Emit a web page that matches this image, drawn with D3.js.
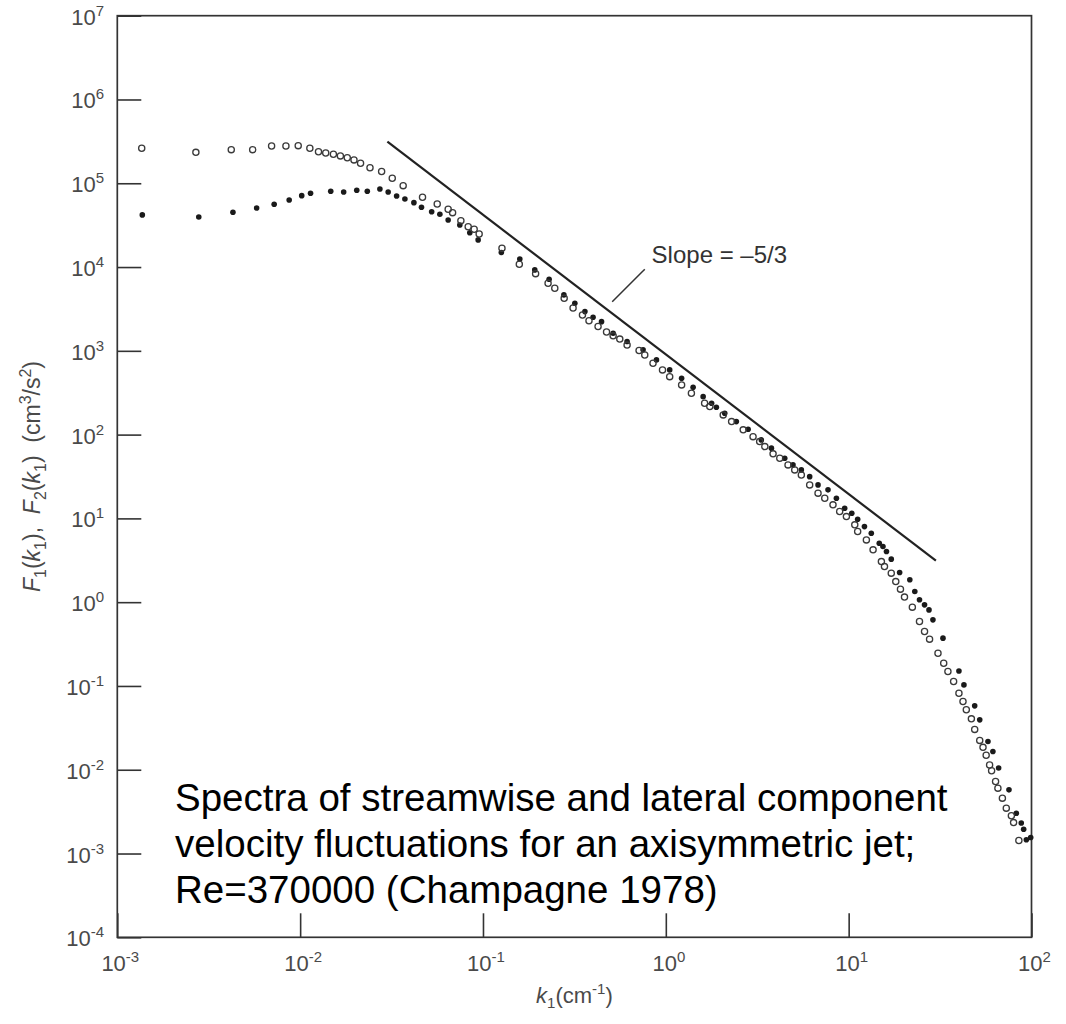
<!DOCTYPE html>
<html><head><meta charset="utf-8">
<script src="https://cdn.jsdelivr.net/npm/d3@7"></script>
<style>
body{margin:0;background:#fff;}
svg{display:block;font-family:"Liberation Sans",Arial,Helvetica,sans-serif;}
</style>
</head><body>
<svg id="chart" width="1066" height="1024"></svg>
<script>
// ---- data ----
const xTickExps = [-3, -2, -1, 0, 1, 2];
const yTickExps = [-4, -3, -2, -1, 0, 1, 2, 3, 4, 5, 6, 7];

// F1 (streamwise) – open circles
const f1K = [1.36e-3, 2.69e-3, 4.20e-3, 5.50e-3, 6.98e-3, 8.36e-3, 9.76e-3, 1.13e-2, 1.26e-2, 1.38e-2,
  1.52e-2, 1.66e-2, 1.81e-2, 1.97e-2, 2.14e-2, 2.41e-2, 2.79e-2, 3.19e-2, 3.66e-2, 4.67e-2,
  5.62e-2, 6.45e-2, 6.82e-2, 7.57e-2, 8.30e-2, 8.95e-2, 9.53e-2, 0.127, 0.158, 0.194,
  0.227, 0.247, 0.278, 0.311, 0.350, 0.380, 0.426, 0.474, 0.515, 0.560,
  0.614, 0.714, 0.767, 0.851, 0.959, 1.05, 1.22, 1.38, 1.63, 1.74,
  2.06, 2.29, 2.65, 3.00, 3.26, 3.48, 3.86, 4.20, 4.66, 5.07,
  5.51, 6.12, 6.80, 7.40, 8.21, 8.93, 9.72, 10.8, 11.2, 12.5,
  13.6, 15.1, 15.7, 17.1, 18.1, 19.2, 20.2, 22.3, 24.4, 26.0,
  27.7, 30.8, 33.1, 34.9, 37.5, 40.1, 42.2, 44.0, 46.9, 48.9,
  52.1, 54.3, 56.5, 59.0, 60.5, 63.6, 65.5, 69.3, 72.8, 77.6,
  79.8, 85.3];
const f1F = [2.62e5, 2.34e5, 2.52e5, 2.52e5, 2.79e5, 2.79e5, 2.81e5, 2.62e5, 2.38e5, 2.30e5,
  2.22e5, 2.12e5, 2.02e5, 1.90e5, 1.73e5, 1.53e5, 1.38e5, 1.15e5, 9.36e4, 6.81e4,
  5.66e4, 4.90e4, 4.46e4, 3.58e4, 3.03e4, 2.82e4, 2.48e4, 1.68e4, 1.08e4, 8.34e3,
  6.41e3, 5.58e3, 4.25e3, 3.25e3, 2.68e3, 2.29e3, 1.95e3, 1.68e3, 1.51e3, 1.38e3,
  1.17e3, 1.01e3, 893, 711, 592, 492, 392, 312, 237, 216,
  172, 143, 114, 94.6, 82.5, 71.9, 58.9, 52.3, 43.5, 37.9,
  33.0, 25.1, 20.0, 17.4, 14.5, 12.1, 10.5, 8.37, 6.97, 5.54,
  4.21, 3.05, 2.66, 2.22, 1.76, 1.43, 1.15, 0.872, 0.587, 0.446,
  0.362, 0.246, 0.187, 0.149, 0.113, 0.0820, 0.0652, 0.0519, 0.0405, 0.0303,
  0.0224, 0.0185, 0.0149, 0.0114, 0.00971, 0.00723, 0.00603, 0.00458, 0.00348, 0.00282,
  0.00234, 0.00143];

// F2 (lateral) – filled dots
const f2K = [1.37e-3, 2.79e-3, 4.29e-3, 5.78e-3, 7.21e-3, 8.71e-3, 1.02e-2, 1.14e-2, 1.47e-2, 1.73e-2,
  2.04e-2, 2.33e-2, 2.73e-2, 3.03e-2, 3.37e-2, 3.74e-2, 4.19e-2, 4.61e-2, 5.24e-2, 5.81e-2,
  6.45e-2, 7.47e-2, 8.47e-2, 9.41e-2, 0.126, 0.159, 0.192, 0.230, 0.277, 0.318,
  0.361, 0.400, 0.445, 0.515, 0.614, 0.751, 0.889, 1.05, 1.22, 1.41,
  1.60, 1.78, 1.89, 2.10, 2.43, 2.82, 3.33, 3.78, 4.47, 4.96,
  5.51, 6.12, 6.80, 7.71, 8.57, 9.51, 10.4, 11.2, 12.2, 13.3,
  14.7, 15.4, 16.1, 17.1, 19.0, 21.6, 23.0, 24.4, 26.0, 27.5,
  28.9, 32.8, 40.1, 42.7, 48.9, 52.1, 57.8, 61.5, 66.1, 75.3,
  82.6, 87.9, 90.6, 93.7, 99.0];
const f2F = [4.19e4, 3.96e4, 4.51e4, 5.07e4, 5.61e4, 6.32e4, 7.11e4, 7.60e4, 8.02e4, 7.87e4,
  8.25e4, 8.02e4, 8.55e4, 7.87e4, 7.05e4, 6.50e4, 5.87e4, 5.17e4, 4.58e4, 4.27e4,
  3.65e4, 3.18e4, 2.57e4, 2.11e4, 1.49e4, 1.25e4, 9.24e3, 7.15e3, 4.65e3, 3.70e3,
  2.94e3, 2.52e3, 2.23e3, 1.62e3, 1.29e3, 1.03e3, 779, 592, 471, 368,
  284, 237, 212, 180, 143, 116, 86.5, 68.9, 52.3, 43.5,
  37.9, 31.5, 25.1, 21.9, 17.4, 13.2, 11.5, 9.78, 7.98, 6.66,
  5.06, 4.61, 4.02, 3.26, 2.26, 1.85, 1.34, 1.07, 0.929, 0.809,
  0.615, 0.372, 0.151, 0.103, 0.0579, 0.0394, 0.0217, 0.0165, 0.0105, 0.00575,
  0.00303, 0.00231, 0.00195, 0.00146, 0.00155];

// -5/3 reference line end points
const slopeK = [0.03, 30];
const slopeF = [3.13e5, 3.13];
const slopeText = "Slope = \u20135/3";
const leaderK = [0.767, 0.509];
const leaderF = [9420, 3860];
const slopeTextAt = [0.836, 1.13e4];

const captionLines = [
  "Spectra of streamwise and lateral component",
  "velocity fluctuations for an axisymmetric jet;",
  "Re=370000 (Champagne 1978)"
];

// ---- drawing ----
const svg = d3.select("#chart");
const L = 117.3, R = 1031.5, T = 15.7, B = 937.3;
const x = d3.scaleLog().domain([1e-3, 1e2]).range([L, R]);
const y = d3.scaleLog().domain([1e-4, 1e7]).range([B, T]);
const axisCol = "#333";
const tickCol = "#4a4a4a";

// axes with inward ticks
const gx = svg.append("g").attr("transform", `translate(0,${B})`)
  .call(d3.axisBottom(x).tickValues(xTickExps.map(e => Math.pow(10, e))).tickSize(-24).tickFormat(""));
const gy = svg.append("g").attr("transform", `translate(${L},0)`)
  .call(d3.axisLeft(y).tickValues(yTickExps.map(e => Math.pow(10, e))).tickSize(-24).tickFormat(""));
[gx, gy].forEach(g => {
  g.select(".domain").remove();
  g.selectAll(".tick line").attr("stroke", axisCol).attr("stroke-width", 1.6);
});

// frame
svg.append("rect").attr("x", L).attr("y", T).attr("width", R - L).attr("height", B - T)
  .attr("fill", "none").attr("stroke", axisCol).attr("stroke-width", 1.7);

// tick labels
function pow10Label(sel, e) {
  sel.append("tspan").text("10");
  sel.append("tspan").attr("dy", -9).attr("font-size", 15).text(String(e));
}
svg.append("g").selectAll("text").data(xTickExps).join("text")
  .attr("x", d => x(Math.pow(10, d)) + 3).attr("y", 971)
  .attr("text-anchor", "middle").attr("font-size", 22).attr("fill", tickCol)
  .each(function (d) { pow10Label(d3.select(this), d); });
svg.append("g").selectAll("text").data(yTickExps).join("text")
  .attr("x", 104).attr("y", d => y(Math.pow(10, d)) + 9)
  .attr("text-anchor", "end").attr("font-size", 22).attr("fill", tickCol)
  .each(function (d) { pow10Label(d3.select(this), d); });

// axis titles
const xt = svg.append("text").attr("x", (L + R) / 2).attr("y", 1003)
  .attr("text-anchor", "middle").attr("font-size", 22).attr("fill", tickCol);
xt.append("tspan").attr("font-style", "italic").text("k");
xt.append("tspan").attr("dy", 5).attr("font-size", 15).text("1");
xt.append("tspan").attr("dy", -5).text("(cm");
xt.append("tspan").attr("dy", -9).attr("font-size", 15).text("-1");
xt.append("tspan").attr("dy", 9).text(")");

const yt = svg.append("text").attr("transform", `translate(40,${(T + B) / 2}) rotate(-90)`)
  .attr("text-anchor", "middle").attr("font-size", 23).attr("fill", tickCol);
function sub(t, s) { t.append("tspan").attr("dy", 6).attr("font-size", 16).text(s); }
function up(t, s) { t.append("tspan").attr("dy", -6).text(s); }
yt.append("tspan").attr("font-style", "italic").text("F");
sub(yt, "1");
up(yt, "(");
yt.append("tspan").attr("font-style", "italic").text("k");
sub(yt, "1");
up(yt, "),\u00a0\u00a0");
yt.append("tspan").attr("font-style", "italic").text("F");
sub(yt, "2");
up(yt, "(");
yt.append("tspan").attr("font-style", "italic").text("k");
sub(yt, "1");
up(yt, ")\u00a0\u00a0(cm");
yt.append("tspan").attr("dy", -9).attr("font-size", 16).text("3");
yt.append("tspan").attr("dy", 9).text("/s");
yt.append("tspan").attr("dy", -9).attr("font-size", 16).text("2");
yt.append("tspan").attr("dy", 9).text(")");

// -5/3 line
const line = d3.line().x(d => x(d[0])).y(d => y(d[1]));
svg.append("path").datum(slopeK.map((k, i) => [k, slopeF[i]])).attr("d", line)
  .attr("fill", "none").attr("stroke", "#222").attr("stroke-width", 2.2);
svg.append("path").datum(leaderK.map((k, i) => [k, leaderF[i]])).attr("d", line)
  .attr("fill", "none").attr("stroke", "#333").attr("stroke-width", 1.5);
svg.append("text").attr("x", x(slopeTextAt[0])).attr("y", y(slopeTextAt[1]))
  .attr("font-size", 24).attr("fill", "#333").text(slopeText);

// data points
const f2 = f2K.map((k, i) => [k, f2F[i]]);
const f1 = f1K.map((k, i) => [k, f1F[i]]);
svg.append("g").selectAll("circle").data(f2).join("circle")
  .attr("cx", d => x(d[0])).attr("cy", d => y(d[1])).attr("r", 2.8).attr("fill", "#1a1a1a");
svg.append("g").selectAll("circle").data(f1).join("circle")
  .attr("cx", d => x(d[0])).attr("cy", d => y(d[1])).attr("r", 3.1)
  .attr("fill", "none").attr("stroke", "#3a3a3a").attr("stroke-width", 1.3);

// caption
svg.append("g").selectAll("text").data(captionLines).join("text")
  .attr("x", 175).attr("y", (d, i) => 810.7 + i * 46)
  .attr("font-size", 38.5).attr("fill", "#000").text(d => d);
</script>
</body></html>
